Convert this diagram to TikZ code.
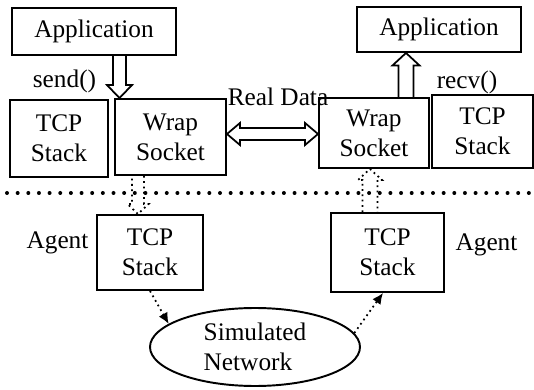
\documentclass[tikz,border=0pt]{standalone}
\usepackage{fontspec}
\setmainfont{Liberation Serif}
\usetikzlibrary{positioning,calc,shapes.geometric,arrows.meta}

\begin{document}
\begin{tikzpicture}[
            box/.style={rectangle, draw=black, line width=1.1pt, inner sep=0pt, align=center},
            cloud/.style={ellipse, draw=black, line width=1.1pt, inner sep=0pt, align=left, minimum width=4.2cm, minimum height=1.56cm},
            lbl/.style={inner sep=0pt},
            hollow/.style n args={3}{line width=1pt, to path={
                ($(\tikztotarget)!#3!(\tikztostart)$) coordinate (hb)
                ($(\tikztostart)!#1!90:(\tikztotarget)$) -- ($(hb)!#1!-90:(\tikztostart)$)
                -- ($(hb)!#2!-90:(\tikztostart)$) -- (\tikztotarget)
                -- ($(hb)!#2!90:(\tikztostart)$) -- ($(hb)!#1!90:(\tikztostart)$)
                -- ($(\tikztostart)!#1!-90:(\tikztotarget)$)}},
            hollowboth/.style n args={3}{line width=1pt, to path={
                ($(\tikztostart)!#3!(\tikztotarget)$) coordinate (ha)
                ($(\tikztotarget)!#3!(\tikztostart)$) coordinate (hb)
                (\tikztostart) -- ($(ha)!#2!90:(\tikztotarget)$) -- ($(ha)!#1!90:(\tikztotarget)$)
                -- ($(hb)!#1!-90:(\tikztostart)$) -- ($(hb)!#2!-90:(\tikztostart)$) -- (\tikztotarget)
                -- ($(hb)!#2!90:(\tikztostart)$) -- ($(hb)!#1!90:(\tikztostart)$)
                -- ($(ha)!#1!-90:(\tikztotarget)$) -- ($(ha)!#2!-90:(\tikztotarget)$) -- cycle}},
            agentlink/.style={dotted, line width=1pt, -{Latex[length=0.22cm, width=0.2cm]}},
            font=\fontsize{14.4}{17}\selectfont
        ]
        \useasboundingbox (0,0) rectangle (10.68,-7.8);

        % Upper side - real hosts
        \node[box, minimum width=3.28cm, minimum height=0.94cm] (appL) at (1.88,-0.63) {Application};
        \node[box, minimum width=1.96cm, minimum height=1.54cm] (tcpL) at (1.18,-2.77) {TCP\\Stack};
        \node[box, minimum width=2.22cm, minimum height=1.52cm] (wrapL) at (3.41,-2.74) {Wrap\\Socket};
        \node[box, minimum width=2.2cm, minimum height=1.4cm] (wrapR) at (7.48,-2.66) {Wrap\\Socket};
        \node[box, minimum width=2.02cm, minimum height=1.46cm] (tcpR) at (9.65,-2.63) {TCP\\Stack};
        \node[box, minimum width=3.28cm, minimum height=0.9cm] (appR) at (8.78,-0.59) {Application};
        \node[lbl] (send) at (1.29,-1.62) {send()};
        \node[lbl] (recv) at (9.34,-1.65) {recv()};
        \node[lbl] (real) at (5.56,-1.93) {Real Data};
        \draw[hollow={0.13cm}{0.25cm}{0.26cm}] ([xshift=0.51cm]appL.south) to ([xshift=-1.02cm]wrapL.north);
        \draw[hollow={0.15cm}{0.27cm}{0.25cm}] ([xshift=0.64cm]wrapR.north) to ([xshift=-0.66cm]appR.south);
        \draw[hollowboth={0.12cm}{0.22cm}{0.26cm}] ([yshift=0.06cm]wrapL.east) to ([yshift=0.06cm]wrapL.east -| wrapR.west);

        % Separator
        \draw[line width=0.08cm, line cap=round, dash pattern=on 0pt off 0.213cm] (0.14,-3.86) -- (10.68,-3.86);

        % Lower side - simulation
        \node[box, minimum width=2.12cm, minimum height=1.5cm] (stackAL) at (3.0,-5.05) {TCP\\Stack};
        \node[box, minimum width=2.26cm, minimum height=1.58cm] (stackAR) at (7.75,-5.05) {TCP\\Stack};
        \node[lbl] (agentL) at (1.15,-4.85) {Agent};
        \node[lbl] (agentR) at (9.73,-4.9) {Agent};
        \node[cloud] (net) at (5.1,-6.94) {Simulated\\Network};
        \draw[hollow={0.12cm}{0.21cm}{0.2cm}, dotted] ([xshift=-0.65cm]wrapL.south) to ([xshift=-0.24cm]stackAL.north);
        \draw[hollow={0.15cm}{0.24cm}{0.22cm}, dotted] ([xshift=-0.35cm]stackAR.north) to ([xshift=-0.08cm]wrapR.south);
        \draw[agentlink] (stackAL.south) -- (net.165);
        \draw[agentlink] (net.8) -- ([xshift=-0.09cm]stackAR.south);
        \end{tikzpicture}
\end{document}
